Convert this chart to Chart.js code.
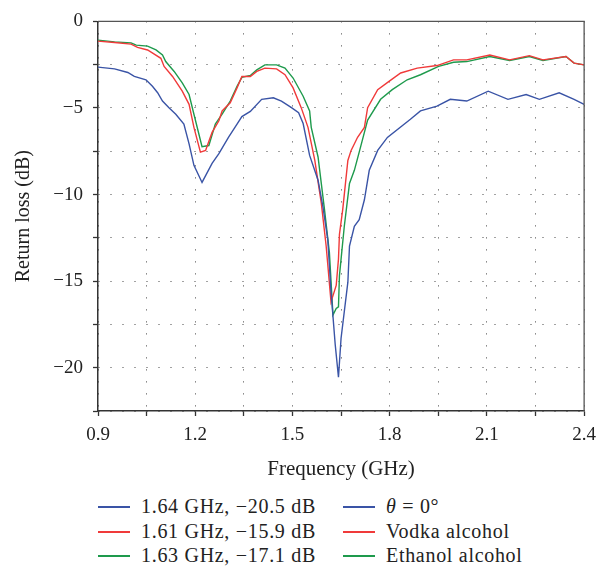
<!DOCTYPE html>
<html>
<head>
<meta charset="utf-8">
<script src="https://cdn.jsdelivr.net/npm/chart.js@4.4.1/dist/chart.umd.min.js"></script>
<style>
  body { margin: 0; background: #fff; }
  #wrap { position: relative; width: 604px; height: 566px; overflow: hidden; }
  #legend {
    position: absolute; left: 98px; top: 494px;
    display: grid; grid-template-columns: 245px auto;
    font-family: "Liberation Serif", serif; font-size: 20px; color: #222;
    line-height: 24.5px; letter-spacing: 0.7px;
  }
  #legend .item { white-space: nowrap; }
  #legend .swatch {
    display: inline-block; width: 32px; height: 2px;
    vertical-align: middle; margin-right: 11px; position: relative; top: -1px;
  }
</style>
</head>
<body>
<div id="wrap">
  <canvas id="lineChart" width="604" height="490"></canvas>
  <div id="legend"></div>
</div>
<script>
// theta = 0 deg
const thetaFreq = [0.900, 0.951, 0.992, 1.012, 1.048, 1.068, 1.084, 1.099, 1.119, 1.140, 1.165, 1.181, 1.196, 1.221, 1.252, 1.273, 1.303, 1.329, 1.344, 1.370, 1.405, 1.441, 1.466, 1.497, 1.519, 1.533, 1.553, 1.579, 1.594, 1.609, 1.619, 1.632, 1.642, 1.650, 1.671, 1.676, 1.691, 1.706, 1.722, 1.737, 1.763, 1.793, 1.864, 1.895, 1.946, 1.987, 2.038, 2.104, 2.165, 2.221, 2.262, 2.323, 2.369, 2.400];
const thetaLoss = [-2.64, -2.74, -2.95, -3.18, -3.37, -3.75, -4.12, -4.60, -4.98, -5.36, -5.93, -7.07, -8.31, -9.30, -8.20, -7.64, -6.69, -5.93, -5.50, -5.20, -4.50, -4.41, -4.60, -4.98, -5.27, -5.90, -7.74, -9.17, -10.7, -12.6, -15.6, -18.67, -20.55, -18.3, -15.06, -12.97, -11.83, -11.45, -10.3, -8.6, -7.45, -6.70, -5.65, -5.17, -4.89, -4.50, -4.60, -4.03, -4.50, -4.22, -4.50, -4.12, -4.50, -4.79];

// vodka alcohol
const vodkaFreq = [0.900, 0.951, 1.002, 1.022, 1.053, 1.094, 1.104, 1.130, 1.160, 1.181, 1.196, 1.216, 1.232, 1.252, 1.273, 1.283, 1.308, 1.329, 1.344, 1.370, 1.390, 1.415, 1.451, 1.477, 1.502, 1.527, 1.548, 1.569, 1.589, 1.604, 1.619, 1.635, 1.642, 1.645, 1.655, 1.671, 1.681, 1.701, 1.722, 1.732, 1.763, 1.798, 1.834, 1.885, 1.946, 1.997, 2.038, 2.109, 2.170, 2.231, 2.273, 2.344, 2.369, 2.400];
const vodkaLoss = [-1.14, -1.22, -1.31, -1.50, -1.65, -2.13, -2.60, -3.18, -4.03, -4.79, -6.12, -7.55, -7.45, -6.41, -5.74, -5.17, -4.70, -3.84, -3.18, -3.18, -2.89, -2.70, -2.74, -3.08, -3.84, -4.98, -6.12, -8.03, -10.5, -12.97, -16.2, -15.25, -13.73, -12.3, -10.88, -8.03, -7.45, -6.69, -6.12, -4.98, -3.94, -3.46, -2.98, -2.70, -2.55, -2.22, -2.22, -1.94, -2.22, -1.98, -2.22, -2.03, -2.41, -2.51];

// ethanol alcohol
const ethanolFreq = [0.900, 0.951, 1.002, 1.018, 1.053, 1.079, 1.099, 1.109, 1.135, 1.160, 1.181, 1.196, 1.221, 1.242, 1.262, 1.283, 1.308, 1.329, 1.344, 1.370, 1.390, 1.415, 1.451, 1.477, 1.502, 1.533, 1.553, 1.558, 1.579, 1.599, 1.614, 1.625, 1.635, 1.642, 1.645, 1.660, 1.676, 1.691, 1.706, 1.732, 1.772, 1.808, 1.854, 1.895, 1.951, 1.997, 2.038, 2.109, 2.170, 2.231, 2.273, 2.344, 2.369, 2.400];
const ethanolLoss = [-1.08, -1.18, -1.24, -1.37, -1.43, -1.65, -1.94, -2.32, -2.89, -3.55, -4.22, -5.36, -7.23, -7.17, -5.93, -5.36, -4.60, -3.75, -3.23, -3.12, -2.80, -2.51, -2.51, -2.70, -3.27, -4.32, -5.17, -6.12, -7.83, -10.88, -13.35, -16.96, -16.58, -16.49, -14.68, -11.83, -9.36, -8.60, -7.55, -5.70, -4.50, -3.94, -3.37, -3.08, -2.60, -2.36, -2.32, -2.03, -2.26, -2.03, -2.26, -2.03, -2.41, -2.51];

const seriesNames = ["θ = 0°", "Vodka alcohol", "Ethanol alcohol"];
const resonanceNotes = ["1.64 GHz, −20.5 dB", "1.61 GHz, −15.9 dB", "1.63 GHz, −17.1 dB"];
const colors = ["#3a54a6", "#f03a3a", "#1e9a4c"];

const fmtMinus = (v) => (v < 0 ? "\u2212" + Math.abs(v) : String(v));

function toPoints(xs, ys) {
  return xs.map((x, i) => ({ x: x, y: ys[i] }));
}

const data = {
  datasets: [
    { label: seriesNames[0], data: toPoints(thetaFreq, thetaLoss), borderColor: colors[0] },
    { label: seriesNames[1], data: toPoints(vodkaFreq, vodkaLoss), borderColor: colors[1] },
    { label: seriesNames[2], data: toPoints(ethanolFreq, ethanolLoss), borderColor: colors[2] },
  ],
};

const serif = "'Liberation Serif', serif";

const gridOpts = {
  color: "#444",
  lineWidth: 1,
  tickLength: 5,
  tickColor: "#333",
  tickWidth: 1.3,
  tickBorderDash: [],
};
// in v4 the grid line dash lives on border.dash
const borderOpts = { color: "#333", width: 1.5, dash: [1, 11] };

// top + right frame lines
const framePlugin = {
  id: "frame",
  afterDatasetsDraw(chart) {
    const { ctx, chartArea: a } = chart;
    ctx.save();
    ctx.strokeStyle = "#555";
    ctx.lineWidth = 1.3;
    ctx.beginPath();
    ctx.moveTo(a.left, a.top);
    ctx.lineTo(a.right, a.top);
    ctx.lineTo(a.right, a.bottom);
    ctx.stroke();
    ctx.restore();
  },
};

const config = {
  type: "line",
  data: data,
  options: {
    responsive: false,
    animation: false,
    devicePixelRatio: 1,
    layout: { padding: { top: 16, right: 16, left: 0, bottom: 0 } },
    elements: {
      point: { radius: 0 },
      line: { borderWidth: 1.4, tension: 0 },
    },
    plugins: {
      legend: { display: false },
      tooltip: { enabled: false },
    },
    scales: {
      x: {
        type: "linear",
        min: 0.9,
        max: 2.4,
        afterFit: (s) => { s.height = 79; },
        grid: gridOpts,
        border: borderOpts,
        ticks: {
          stepSize: 0.15,
          padding: 8,
          color: "#222",
          font: { family: serif, size: 19 },
          callback: (v) => (Math.round(v * 100) % 30 === 0 ? v.toFixed(1) : ""),
        },
        title: {
          display: true,
          text: "Frequency (GHz)",
          color: "#222",
          font: { family: serif, size: 21 },
          padding: { top: 4, bottom: 8 },
        },
      },
      y: {
        min: -22.5,
        max: 0,
        afterFit: (s) => { s.width = 98; },
        grid: gridOpts,
        border: borderOpts,
        ticks: {
          stepSize: 2.5,
          padding: 10,
          color: "#222",
          font: { family: serif, size: 19 },
          callback: (v) => (v % 5 === 0 ? fmtMinus(v) : ""),
        },
        title: {
          display: true,
          text: "Return loss (dB)",
          color: "#222",
          font: { family: serif, size: 20 },
          padding: { top: 12, bottom: 4 },
        },
      },
    },
  },
  plugins: [framePlugin],
};

new Chart(document.getElementById("lineChart"), config);

// two-column legend under the plot
const legend = document.getElementById("legend");
for (let i = 0; i < 3; i++) {
  [resonanceNotes[i], seriesNames[i]].forEach((txt) => {
    const item = document.createElement("div");
    item.className = "item";
    const sw = document.createElement("span");
    sw.className = "swatch";
    sw.style.background = colors[i];
    item.appendChild(sw);
    const label = document.createElement("span");
    if (txt.startsWith("θ")) {
      label.innerHTML = "<i>θ</i>" + txt.slice(1);
    } else {
      label.textContent = txt;
    }
    item.appendChild(label);
    legend.appendChild(item);
  });
}
</script>
</body>
</html>
